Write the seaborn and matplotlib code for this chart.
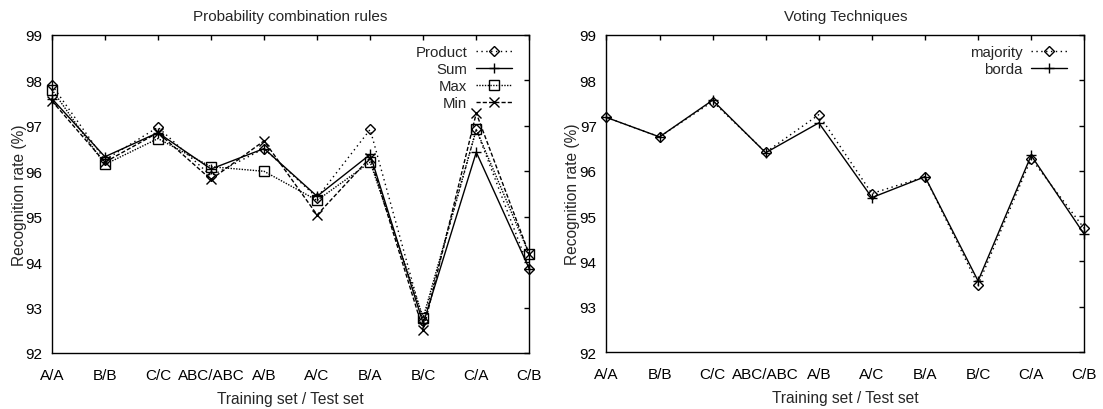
import matplotlib
matplotlib.use("Agg")
import matplotlib.pyplot as plt
import seaborn as sns
import pandas as pd

# Training / test set pairs
pairs = ["A/A", "B/B", "C/C", "ABC/ABC", "A/B", "A/C", "B/A", "B/C", "C/A", "C/B"]

# Probability combination rules (recognition rate, %)
product = [97.90, 96.25, 96.97, 95.90, 96.50, 95.42, 96.92, 92.70, 96.92, 93.85]
sum_rule = [97.60, 96.32, 96.85, 96.05, 96.50, 95.45, 96.37, 92.65, 96.42, 93.85]
max_rule = [97.80, 96.15, 96.72, 96.10, 96.00, 95.36, 96.20, 92.78, 96.92, 94.17]
min_rule = [97.55, 96.20, 96.85, 95.82, 96.67, 95.04, 96.30, 92.50, 97.28, 94.17]

# Voting techniques (recognition rate, %)
majority = [97.18, 96.75, 97.53, 96.41, 97.24, 95.50, 95.87, 93.48, 96.27, 94.73]
borda = [97.18, 96.75, 97.56, 96.40, 97.06, 95.41, 95.87, 93.57, 96.34, 94.60]

yticks = [92, 93, 94, 95, 96, 97, 98, 99]

sns.set_theme(style="white")
plt.rcParams["font.family"] = ["Liberation Sans", "DejaVu Sans"]
plt.rcParams["font.size"] = 10

fig = plt.figure(figsize=(11.03, 4.10), dpi=100)
ax1 = fig.add_axes([0.0470, 0.1366, 0.4329, 0.7756])
ax2 = fig.add_axes([0.5498, 0.1390, 0.4332, 0.7732])


def long_frame(series):
    rows = []
    for name, vals in series.items():
        for i, (p, v) in enumerate(zip(pairs, vals)):
            rows.append({"pair": p, "pos": i, "rate": v, "method": name})
    return pd.DataFrame(rows)


def draw(ax, series, markers, dashes, msizes, title):
    df = long_frame(series)
    names = list(series.keys())
    for name in names:
        sub = df[df["method"] == name]
        sns.lineplot(data=sub, x="pos", y="rate", ax=ax, color="black",
                     lw=1.0, marker=markers[name], markersize=msizes[name],
                     markerfacecolor="none", markeredgecolor="black",
                     markeredgewidth=1.0, dashes=False, sort=False,
                     legend=False, estimator=None, clip_on=False, zorder=3)
        ln = ax.get_lines()[-1]
        if dashes[name] is None:
            ln.set_linestyle("-")
        else:
            ln.set_linestyle((0, dashes[name]))
    ax.set_xlim(0, len(pairs) - 1)
    ax.set_ylim(92, 99)
    ax.set_xticks(range(len(pairs)))
    ax.set_xticklabels(pairs)
    ax.set_yticks(yticks)
    ax.tick_params(direction="in", length=3.5, width=1, top=True, right=True,
                   labeltop=False, labelright=False, colors="black",
                   labelsize=11)
    ax.tick_params(axis="x", pad=11)
    ax.tick_params(axis="y", pad=7)
    for s in ax.spines.values():
        s.set_color("black")
        s.set_linewidth(1.0)
    ax.set_xlabel("Training set / Test set", fontsize=11.2, labelpad=6)
    ax.set_ylabel("Recognition rate (%)", fontsize=11.2)
    ax.set_title(title, fontsize=11, pad=11)
    ax.legend(ax.get_lines(), names, loc="upper right", frameon=False,
              markerfirst=False, handlelength=2.4, handletextpad=0.55,
              labelspacing=0.2, fontsize=10.8, borderaxespad=0.3,
              bbox_to_anchor=(0.985, 1.0))


draw(ax1,
     {"Product": product, "Sum": sum_rule, "Max": max_rule, "Min": min_rule},
     {"Product": "D", "Sum": "+", "Max": "s", "Min": "x"},
     {"Product": (1, 2.5), "Sum": None, "Max": (1, 1), "Min": (3, 1.5)},
     {"Product": 5.5, "Sum": 7.5, "Max": 7, "Min": 7},
     "Probability combination rules")
ax1.yaxis.set_label_coords(-0.053, 0.5)

draw(ax2,
     {"majority": majority, "borda": borda},
     {"majority": "D", "borda": "+"},
     {"majority": (1, 2.5), "borda": None},
     {"majority": 5.5, "borda": 7.5},
     "Voting Techniques")
ax2.yaxis.set_label_coords(-0.055, 0.5)

fig.savefig("out.png", dpi=100, facecolor="white")
